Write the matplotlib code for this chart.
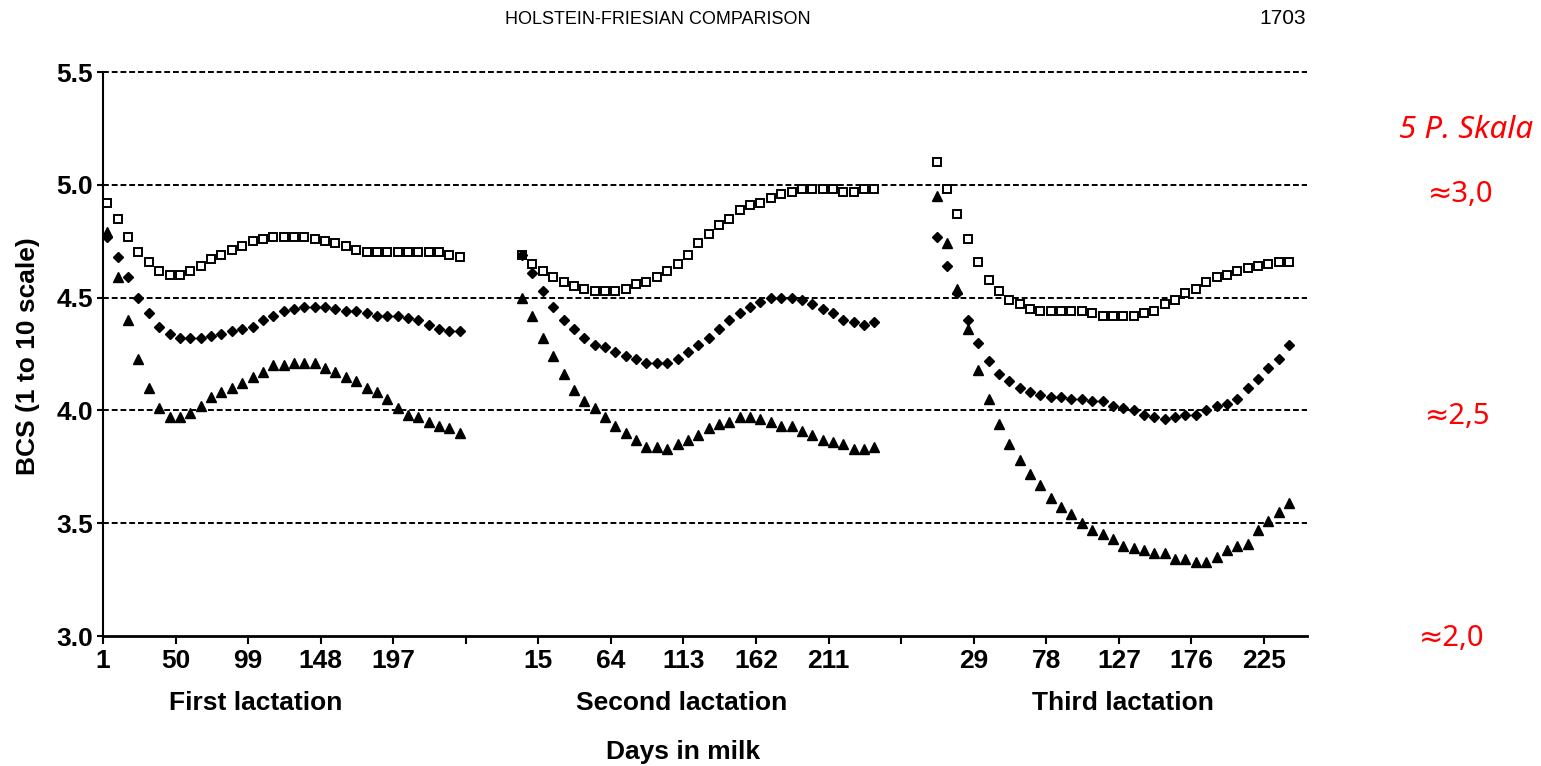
import matplotlib
matplotlib.use('Agg')
import matplotlib.pyplot as plt
import numpy as np

plt.rcParams['font.family'] = ['Liberation Sans', 'DejaVu Sans']

# weekly sampling days within each lactation
days = [4, 11, 18, 25, 32, 39, 46, 53, 60, 67, 74, 81, 88, 95, 102, 109, 116, 123,
        130, 137, 144, 151, 158, 165, 172, 179, 186, 193, 200, 207, 214, 221, 228,
        235, 242]
lactations = ['First lactation', 'Second lactation', 'Third lactation']
lact_offset = [0, 280, 560]

# open squares
sq1 = [4.92, 4.85, 4.77, 4.70, 4.66, 4.62, 4.60, 4.60, 4.62, 4.64, 4.67, 4.69, 4.71,
       4.73, 4.75, 4.76, 4.77, 4.77, 4.77, 4.77, 4.76, 4.75, 4.74, 4.73, 4.71, 4.70,
       4.70, 4.70, 4.70, 4.70, 4.70, 4.70, 4.70, 4.69, 4.68]
sq2 = [4.69, 4.65, 4.62, 4.59, 4.57, 4.55, 4.54, 4.53, 4.53, 4.53, 4.54, 4.56, 4.57,
       4.59, 4.62, 4.65, 4.69, 4.74, 4.78, 4.82, 4.85, 4.89, 4.91, 4.92, 4.94, 4.96,
       4.97, 4.98, 4.98, 4.98, 4.98, 4.97, 4.97, 4.98, 4.98]
sq3 = [5.10, 4.98, 4.87, 4.76, 4.66, 4.58, 4.53, 4.49, 4.47, 4.45, 4.44, 4.44, 4.44,
       4.44, 4.44, 4.43, 4.42, 4.42, 4.42, 4.42, 4.43, 4.44, 4.47, 4.49, 4.52, 4.54,
       4.57, 4.59, 4.60, 4.62, 4.63, 4.64, 4.65, 4.66, 4.66]

# filled diamonds
dia1 = [4.77, 4.68, 4.59, 4.50, 4.43, 4.37, 4.34, 4.32, 4.32, 4.32, 4.33, 4.34, 4.35,
        4.36, 4.37, 4.40, 4.42, 4.44, 4.45, 4.46, 4.46, 4.46, 4.45, 4.44, 4.44, 4.43,
        4.42, 4.42, 4.42, 4.41, 4.40, 4.38, 4.36, 4.35, 4.35]
dia2 = [4.69, 4.61, 4.53, 4.46, 4.40, 4.36, 4.32, 4.29, 4.28, 4.26, 4.24, 4.23, 4.21,
        4.21, 4.21, 4.23, 4.26, 4.29, 4.32, 4.36, 4.40, 4.43, 4.46, 4.48, 4.50, 4.50,
        4.50, 4.49, 4.47, 4.45, 4.43, 4.40, 4.39, 4.38, 4.39]
dia3 = [4.77, 4.64, 4.52, 4.40, 4.30, 4.22, 4.16, 4.13, 4.10, 4.08, 4.07, 4.06, 4.06,
        4.05, 4.05, 4.04, 4.04, 4.02, 4.01, 4.00, 3.98, 3.97, 3.96, 3.97, 3.98, 3.98,
        4.00, 4.02, 4.03, 4.05, 4.10, 4.14, 4.19, 4.23, 4.29]

# filled triangles
tri1 = [4.79, 4.59, 4.40, 4.23, 4.10, 4.01, 3.97, 3.97, 3.99, 4.02, 4.06, 4.08, 4.10,
        4.12, 4.15, 4.17, 4.20, 4.20, 4.21, 4.21, 4.21, 4.19, 4.17, 4.15, 4.13, 4.10,
        4.08, 4.05, 4.01, 3.98, 3.97, 3.95, 3.93, 3.92, 3.90]
tri2 = [4.50, 4.42, 4.32, 4.24, 4.16, 4.09, 4.04, 4.01, 3.97, 3.93, 3.90, 3.87, 3.84,
        3.84, 3.83, 3.85, 3.87, 3.89, 3.92, 3.94, 3.95, 3.97, 3.97, 3.96, 3.95, 3.93,
        3.93, 3.91, 3.89, 3.87, 3.86, 3.85, 3.83, 3.83, 3.84]
tri3 = [4.95, 4.74, 4.54, 4.36, 4.18, 4.05, 3.94, 3.85, 3.78, 3.72, 3.67, 3.61, 3.57,
        3.54, 3.50, 3.47, 3.45, 3.43, 3.40, 3.39, 3.38, 3.37, 3.37, 3.34, 3.34, 3.33,
        3.33, 3.35, 3.38, 3.40, 3.41, 3.47, 3.51, 3.55, 3.59]

x_tick_labels = ['1', '50', '99', '148', '197', '', '15', '64', '113', '162', '211',
                 '', '29', '78', '127', '176', '225']
y_ticks = [3.0, 3.5, 4.0, 4.5, 5.0, 5.5]
scale5 = ['≈3,0', '≈2,5', '≈2,0']

squares = [sq1, sq2, sq3]
diamonds = [dia1, dia2, dia3]
triangles = [tri1, tri2, tri3]

fig = plt.figure(figsize=(15.41, 7.66), dpi=100)
ax = fig.add_axes([0.0668, 0.1697, 0.7813, 0.7363])

for i, off in enumerate(lact_offset):
    x = np.array(days) + off
    ax.plot(x, squares[i], ls='none', marker='s', ms=6.3, mfc='white',
            mec='black', mew=1.4, zorder=3)
    ax.plot(x, diamonds[i], ls='none', marker='D', ms=5.3, color='black', zorder=4)
    ax.plot(x, triangles[i], ls='none', marker='^', ms=7, color='black', zorder=5)

for v in y_ticks[1:]:
    ax.axhline(v, color='black', lw=1.4, ls=(0, (3, 1.5)), clip_on=False, zorder=2)

ax.set_xlim(1, 814)
ax.set_ylim(3.0, 5.5)
for s in ['top', 'right']:
    ax.spines[s].set_visible(False)
ax.spines['left'].set_linewidth(1.5)
ax.spines['bottom'].set_linewidth(2)

ax.set_xticks(1 + 49 * np.arange(len(x_tick_labels)))
ax.set_xticklabels(x_tick_labels, fontsize=19, fontweight='bold')
ax.set_yticks(y_ticks)
ax.set_yticklabels(['%.1f' % v for v in y_ticks], fontsize=19, fontweight='bold')
ax.tick_params(axis='x', direction='out', length=6, width=1.5, pad=3)
ax.tick_params(axis='y', direction='out', length=4, width=1.5, pad=3)

# lactation names under the axis
for name, xc in zip(lactations, [104, 392, 690]):
    ax.text(xc, -0.119, name, transform=ax.get_xaxis_transform(), ha='center',
            va='center', fontsize=19, fontweight='bold')

fig.text(683 / 1541, 1 - 752 / 766, 'Days in milk', ha='center', va='center',
         fontsize=19, fontweight='bold')
fig.text(28 / 1541, 1 - 356 / 766, 'BCS (1 to 10 scale)', rotation=90,
         ha='center', va='center', fontsize=19, fontweight='bold')

fig.text(658 / 1541, 1 - 20 / 766, 'HOLSTEIN-FRIESIAN COMPARISON', ha='center',
         va='center', fontsize=13)
fig.text(1283 / 1541, 1 - 18 / 766, '1703', ha='center', va='center', fontsize=15)

# 5 point scale equivalents on the right
red_font = ['Noto Sans', 'DejaVu Sans']
fig.text(1466 / 1541, 1 - 130 / 766, '5 P. Skala', ha='center', va='center',
         fontsize=22.5, style='italic', color='red', family=red_font)
for lab, (px, py) in zip(scale5, [(1461, 195), (1458, 416), (1452, 639)]):
    fig.text(px / 1541, 1 - py / 766, lab, ha='center', va='center',
             fontsize=21, color='red', family=red_font)

fig.savefig('out.png', dpi=100)
